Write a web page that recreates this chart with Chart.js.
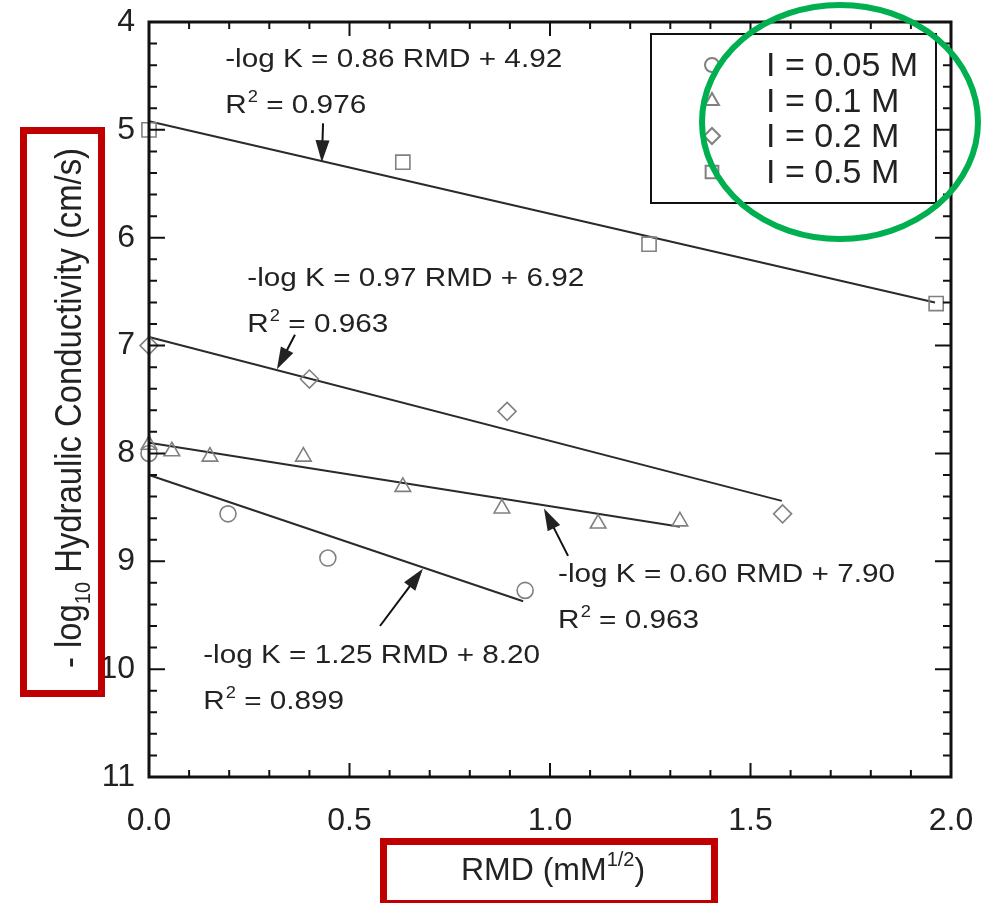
<!DOCTYPE html>
<html>
<head>
<meta charset="utf-8">
<script src="https://cdn.jsdelivr.net/npm/chart.js@4.4.1/dist/chart.umd.min.js"></script>
<style>
  html, body { margin: 0; padding: 0; background: #fff; }
  #wrap { width: 987px; height: 903px; }
</style>
</head>
<body>
<div id="wrap"><canvas id="chart" width="987" height="903"></canvas></div>
<script>
// values
const seriesLabels = ['I = 0.05 M', 'I = 0.1 M', 'I = 0.2 M', 'I = 0.5 M'];

const rmd005 = [0, 0.197, 0.446, 0.938];
const logk005 = [8.00, 8.56, 8.97, 9.27];
const rmd01 = [0, 0.057, 0.152, 0.385, 0.633, 0.88, 1.12, 1.324];
const logk01 = [7.92, 7.98, 8.03, 8.03, 8.31, 8.51, 8.65, 8.63];
const rmd02 = [0, 0.40, 0.893, 1.58];
const logk02 = [7.00, 7.31, 7.61, 8.56];
const rmd05 = [0, 0.633, 1.247, 1.963];
const logk05 = [5.00, 5.30, 6.06, 6.61];

// fitted lines, end points
const fitX005 = [0, 0.933];
const fitY005 = [8.20, 9.37];
const fitX01 = [0, 1.324];
const fitY01 = [7.90, 8.68];
const fitX02 = [0, 1.578];
const fitY02 = [6.92, 8.44];
const fitX05 = [0, 1.96];
const fitY05 = [4.92, 6.60];

const xTicks = [0, 0.5, 1.0, 1.5, 2.0];
const yTicks = [4, 5, 6, 7, 8, 9, 10, 11];

const equations = ['-log K = 0.86 RMD + 4.92', '-log K = 0.97 RMD + 6.92',
                   '-log K = 0.60 RMD + 7.90', '-log K = 1.25 RMD + 8.20'];
const rSquared = ['0.976', '0.963', '0.963', '0.899'];

const FONT = '"Liberation Sans", Arial, Helvetica, sans-serif';
const markerColor = '#808080';
const lineColor = '#2a2a2a';
const textColor = '#222';

function pts(xs, ys) {
  return xs.map((x, i) => ({ x: x, y: ys[i] }));
}

const markerStyles = [
  { pointStyle: 'circle', radius: 8 },
  { pointStyle: 'triangle', radius: 9 },
  { pointStyle: 'rectRot', radius: 9 },
  { pointStyle: 'rect', radius: 10 }
];

const seriesX = [rmd005, rmd01, rmd02, rmd05];
const seriesY = [logk005, logk01, logk02, logk05];
const fitsX = [fitX005, fitX01, fitX02, fitX05];
const fitsY = [fitY005, fitY01, fitY02, fitY05];

const datasets = [];
seriesLabels.forEach((label, i) => {
  datasets.push({
    label: label,
    data: pts(seriesX[i], seriesY[i]),
    showLine: false,
    pointStyle: markerStyles[i].pointStyle,
    pointRadius: markerStyles[i].radius,
    pointBorderColor: markerColor,
    pointBackgroundColor: 'rgba(0,0,0,0)',
    pointBorderWidth: 1.6,
    clip: false
  });
});
seriesLabels.forEach((label, i) => {
  datasets.push({
    label: label + ' fit',
    data: pts(fitsX[i], fitsY[i]),
    showLine: true,
    borderColor: lineColor,
    borderWidth: 2,
    pointRadius: 0,
    clip: false
  });
});

// annotation placement (data units): text anchor, arrow tail and tip
const notes = [
  { tx: 0.19, ty: 4.42, tail: [0.434, 4.94], tip: [0.431, 5.30] },
  { tx: 0.245, ty: 6.45, tail: [0.364, 6.90], tip: [0.319, 7.22] },
  { tx: 1.02, ty: 9.19, tail: [1.045, 8.95], tip: [0.985, 8.51] },
  { tx: 0.135, ty: 9.94, tail: [0.576, 9.60], tip: [0.683, 9.07] }
];

function fitText(ctx, text, x, y, size, width) {
  ctx.font = size + 'px ' + FONT;
  const w = ctx.measureText(text).width;
  const sx = width ? width / w : 1;
  ctx.save();
  ctx.translate(x, y);
  ctx.scale(sx, 1);
  ctx.fillText(text, 0, 0);
  ctx.restore();
  return sx;
}

function drawR2(ctx, value, x, y, size, sx) {
  ctx.save();
  ctx.translate(x, y);
  ctx.scale(sx, 1);
  ctx.font = size + 'px ' + FONT;
  ctx.fillText('R', 0, 0);
  let cx = ctx.measureText('R').width + 1;
  ctx.font = Math.round(size * 0.62) + 'px ' + FONT;
  ctx.fillText('2', cx, -size * 0.42);
  cx += ctx.measureText('2').width;
  ctx.font = size + 'px ' + FONT;
  ctx.fillText(' = ' + value, cx, 0);
  ctx.restore();
}

function arrow(ctx, x0, y0, x1, y1) {
  const ang = Math.atan2(y1 - y0, x1 - x0);
  const hl = 22, hw = 7;
  ctx.beginPath();
  ctx.moveTo(x0, y0);
  ctx.lineTo(x1 - Math.cos(ang) * hl * 0.8, y1 - Math.sin(ang) * hl * 0.8);
  ctx.stroke();
  ctx.beginPath();
  ctx.moveTo(x1, y1);
  ctx.lineTo(x1 - Math.cos(ang) * hl + Math.sin(ang) * hw, y1 - Math.sin(ang) * hl - Math.cos(ang) * hw);
  ctx.lineTo(x1 - Math.cos(ang) * hl - Math.sin(ang) * hw, y1 - Math.sin(ang) * hl + Math.cos(ang) * hw);
  ctx.closePath();
  ctx.fill();
}

// keep tick labels from pushing the plot area inwards
function noScalePadding(s) {
  s.paddingTop = 0; s.paddingBottom = 0; s.paddingLeft = 0; s.paddingRight = 0;
}

const overlay = {
  id: 'overlay',
  afterDraw(chart) {
    const ctx = chart.ctx;
    const a = chart.chartArea;
    const xs = chart.scales.x;
    const ys = chart.scales.y;
    ctx.save();

    // frame and inner ticks on all four sides
    ctx.strokeStyle = '#111';
    ctx.lineWidth = 3;
    ctx.strokeRect(a.left, a.top, a.right - a.left, a.bottom - a.top);
    ctx.lineWidth = 2;
    ctx.beginPath();
    for (let i = 0; i <= 20; i++) {
      const px = xs.getPixelForValue(i / 10);
      const len = i % 5 === 0 ? 14 : 7;
      ctx.moveTo(px, a.bottom); ctx.lineTo(px, a.bottom - len);
      ctx.moveTo(px, a.top); ctx.lineTo(px, a.top + len);
    }
    for (let i = 0; i <= 35; i++) {
      const py = ys.getPixelForValue(4 + i / 5);
      const len = i % 5 === 0 ? 16 : 8;
      ctx.moveTo(a.left, py); ctx.lineTo(a.left + len, py);
      ctx.moveTo(a.right, py); ctx.lineTo(a.right - len, py);
    }
    ctx.stroke();

    // legend box
    ctx.lineWidth = 2;
    ctx.strokeStyle = '#111';
    ctx.strokeRect(651, 34, 285, 169);
    const rowY = [65, 101, 136, 172];
    seriesLabels.forEach((label, i) => {
      ctx.strokeStyle = markerColor;
      ctx.fillStyle = 'rgba(0,0,0,0)';
      Chart.helpers.drawPoint(ctx, {
        pointStyle: markerStyles[i].pointStyle,
        radius: markerStyles[i].radius - 1,
        rotation: 0,
        borderWidth: 1.6
      }, 712, rowY[i]);
      ctx.fillStyle = textColor;
      ctx.textBaseline = 'middle';
      ctx.textAlign = 'left';
      ctx.font = '34px ' + FONT;
      ctx.fillText(label, 766, rowY[i] + 2);
    });

    // regression annotations
    ctx.fillStyle = textColor;
    ctx.strokeStyle = '#111';
    ctx.lineWidth = 2;
    ctx.textBaseline = 'alphabetic';
    ctx.textAlign = 'left';
    notes.forEach((n, i) => {
      const x = xs.getPixelForValue(n.tx);
      const y = ys.getPixelForValue(n.ty);
      const sx = fitText(ctx, equations[i], x, y, 26, 337);
      drawR2(ctx, rSquared[i], x, y + 46, 26, sx);
      arrow(ctx, xs.getPixelForValue(n.tail[0]), ys.getPixelForValue(n.tail[1]),
                 xs.getPixelForValue(n.tip[0]), ys.getPixelForValue(n.tip[1]));
    });

    // y axis title, rotated
    ctx.save();
    ctx.translate(81, 668);
    ctx.rotate(-Math.PI / 2);
    const big = '36px ' + FONT, small = '22px ' + FONT;
    const parts = [['- log', big, 0], ['10', small, 9], [' Hydraulic Conductivity (cm/s)', big, 0]];
    let total = 0;
    parts.forEach(p => { ctx.font = p[1]; total += ctx.measureText(p[0]).width; });
    const syl = 520 / total;
    ctx.scale(syl, 1);
    let cx = 0;
    parts.forEach(p => {
      ctx.font = p[1];
      ctx.fillText(p[0], cx, p[2]);
      cx += ctx.measureText(p[0]).width;
    });
    ctx.restore();

    // x axis title
    ctx.save();
    const xparts = [['RMD (mM', '32px ' + FONT, 0], ['1/2', '20px ' + FONT, -14], [')', '32px ' + FONT, 0]];
    let xt = 0;
    xparts.forEach(p => { ctx.font = p[1]; xt += ctx.measureText(p[0]).width; });
    ctx.translate(553 - xt / 2, 880);
    let xc = 0;
    xparts.forEach(p => {
      ctx.font = p[1];
      ctx.fillText(p[0], xc, p[2]);
      xc += ctx.measureText(p[0]).width;
    });
    ctx.restore();

    // highlight marks
    ctx.strokeStyle = '#c00000';
    ctx.lineWidth = 7;
    ctx.strokeRect(23.5, 130.5, 78, 563);
    ctx.strokeRect(383.5, 841.5, 331, 62);
    ctx.strokeStyle = '#00b050';
    ctx.lineWidth = 6;
    ctx.beginPath();
    ctx.ellipse(840, 122, 138, 117, 0, 0, Math.PI * 2);
    ctx.stroke();

    ctx.restore();
  }
};

new Chart(document.getElementById('chart'), {
  type: 'scatter',
  data: { datasets: datasets },
  options: {
    responsive: false,
    animation: false,
    layout: { padding: { left: 49, right: 36, top: 22, bottom: 26 } },
    plugins: { legend: { display: false }, tooltip: { enabled: false } },
    scales: {
      x: {
        type: 'linear', min: 0, max: 2, position: 'bottom',
        afterBuildTicks: s => { s.ticks = xTicks.map(v => ({ value: v })); },
        afterFit: s => { s.height = 100; noScalePadding(s); },
        ticks: {
          callback: v => Number(v).toFixed(1),
          font: { family: FONT, size: 32 }, color: textColor,
          padding: 25, maxRotation: 0, autoSkip: false
        },
        grid: { display: false, drawTicks: false },
        border: { display: false }
      },
      y: {
        type: 'linear', min: 4, max: 11, reverse: true,
        afterBuildTicks: s => { s.ticks = yTicks.map(v => ({ value: v })); },
        afterFit: s => { s.width = 100; noScalePadding(s); },
        ticks: {
          callback: v => String(v),
          font: { family: FONT, size: 32 }, color: textColor,
          padding: 14, autoSkip: false
        },
        grid: { display: false, drawTicks: false },
        border: { display: false }
      }
    }
  },
  plugins: [overlay]
});
</script>
</body>
</html>
